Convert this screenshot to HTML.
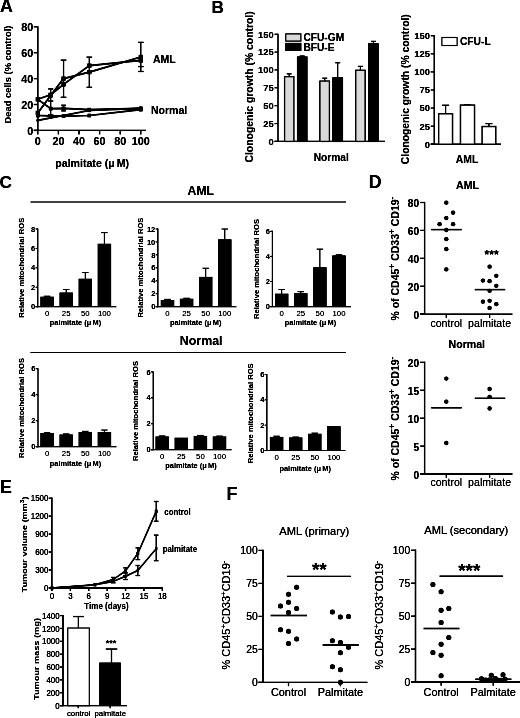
<!DOCTYPE html>
<html><head><meta charset="utf-8"><title>Figure</title>
<style>
html,body{margin:0;padding:0;background:#fff;}
body{width:520px;height:718px;overflow:hidden;font-family:"Liberation Sans", sans-serif;}
svg{display:block;font-family:"Liberation Sans",sans-serif;}
</style></head>
<body>
<svg width="520" height="718" viewBox="0 0 520 718">
<defs><filter id="soft" x="0" y="0" width="520" height="718" filterUnits="userSpaceOnUse"><feGaussianBlur stdDeviation="0.5"/><feComponentTransfer><feFuncA type="linear" slope="1.5" intercept="0"/></feComponentTransfer></filter></defs>
<rect x="0" y="0" width="520" height="718" fill="#fff"/>
<g filter="url(#soft)">
<text x="0.10" y="12.10" font-size="17.8" font-weight="bold" text-anchor="start" fill="#000">A</text>
<line x1="37.80" y1="26.20" x2="37.80" y2="131.00" stroke="#000" stroke-width="1.4" stroke-linecap="butt"/>
<line x1="33.80" y1="130.40" x2="146.00" y2="130.40" stroke="#000" stroke-width="1.4" stroke-linecap="butt"/>
<line x1="33.80" y1="130.40" x2="37.80" y2="130.40" stroke="#000" stroke-width="1.3" stroke-linecap="butt"/>
<text x="33.20" y="134.70" font-size="10.8" font-weight="bold" text-anchor="end" fill="#000">0</text>
<line x1="33.80" y1="104.50" x2="37.80" y2="104.50" stroke="#000" stroke-width="1.3" stroke-linecap="butt"/>
<text x="33.20" y="108.80" font-size="10.8" font-weight="bold" text-anchor="end" fill="#000">20</text>
<line x1="33.80" y1="78.60" x2="37.80" y2="78.60" stroke="#000" stroke-width="1.3" stroke-linecap="butt"/>
<text x="33.20" y="82.90" font-size="10.8" font-weight="bold" text-anchor="end" fill="#000">40</text>
<line x1="33.80" y1="52.70" x2="37.80" y2="52.70" stroke="#000" stroke-width="1.3" stroke-linecap="butt"/>
<text x="33.20" y="57.00" font-size="10.8" font-weight="bold" text-anchor="end" fill="#000">60</text>
<line x1="33.80" y1="26.80" x2="37.80" y2="26.80" stroke="#000" stroke-width="1.3" stroke-linecap="butt"/>
<text x="33.20" y="31.10" font-size="10.8" font-weight="bold" text-anchor="end" fill="#000">80</text>
<line x1="37.80" y1="130.40" x2="37.80" y2="134.40" stroke="#000" stroke-width="1.3" stroke-linecap="butt"/>
<text x="37.80" y="144.60" font-size="10.8" font-weight="bold" text-anchor="middle" fill="#000">0</text>
<line x1="58.40" y1="130.40" x2="58.40" y2="134.40" stroke="#000" stroke-width="1.3" stroke-linecap="butt"/>
<text x="58.40" y="144.60" font-size="10.8" font-weight="bold" text-anchor="middle" fill="#000">20</text>
<line x1="79.00" y1="130.40" x2="79.00" y2="134.40" stroke="#000" stroke-width="1.3" stroke-linecap="butt"/>
<text x="79.00" y="144.60" font-size="10.8" font-weight="bold" text-anchor="middle" fill="#000">40</text>
<line x1="99.60" y1="130.40" x2="99.60" y2="134.40" stroke="#000" stroke-width="1.3" stroke-linecap="butt"/>
<text x="99.60" y="144.60" font-size="10.8" font-weight="bold" text-anchor="middle" fill="#000">60</text>
<line x1="120.20" y1="130.40" x2="120.20" y2="134.40" stroke="#000" stroke-width="1.3" stroke-linecap="butt"/>
<text x="120.20" y="144.60" font-size="10.8" font-weight="bold" text-anchor="middle" fill="#000">80</text>
<line x1="140.80" y1="130.40" x2="140.80" y2="134.40" stroke="#000" stroke-width="1.3" stroke-linecap="butt"/>
<text x="140.80" y="144.60" font-size="10.8" font-weight="bold" text-anchor="middle" fill="#000">100</text>
<text x="10.50" y="74.50" font-size="9.4" font-weight="bold" text-anchor="middle" fill="#000" transform="rotate(-90 10.50 74.50)">Dead cells (% control)</text>
<text x="92.20" y="167.00" font-size="10.6" font-weight="bold" text-anchor="middle" fill="#000">palmitate (&#956;<tspan dx="2">M)</tspan></text>
<text x="153.00" y="63.20" font-size="10.5" font-weight="bold" text-anchor="start" fill="#000">AML</text>
<text x="151.00" y="113.60" font-size="10.5" font-weight="bold" text-anchor="start" fill="#000">Normal</text>
<polyline points="37.80,99.32 50.67,94.79 63.55,84.43 89.30,65.65 140.80,60.47" fill="none" stroke="#000" stroke-width="1.7" stroke-linejoin="round"/>
<polyline points="37.80,112.92 50.67,95.44 63.55,78.60 89.30,72.12 140.80,56.97" fill="none" stroke="#000" stroke-width="1.7" stroke-linejoin="round"/>
<polyline points="37.80,99.32 50.67,108.64 63.55,108.39 89.30,109.68 140.80,108.39" fill="none" stroke="#000" stroke-width="1.7" stroke-linejoin="round"/>
<polyline points="37.80,115.51 50.67,115.90 63.55,116.16 89.30,115.51 140.80,109.68" fill="none" stroke="#000" stroke-width="1.7" stroke-linejoin="round"/>
<polyline points="37.80,120.30 89.30,110.46 140.80,108.39" fill="none" stroke="#000" stroke-width="1.7" stroke-linejoin="round"/>
<rect x="35.70" y="97.22" width="4.20" height="4.20" fill="#000" stroke="#000" stroke-width="0"/>
<rect x="48.57" y="92.69" width="4.20" height="4.20" fill="#000" stroke="#000" stroke-width="0"/>
<rect x="61.45" y="82.33" width="4.20" height="4.20" fill="#000" stroke="#000" stroke-width="0"/>
<rect x="87.20" y="63.55" width="4.20" height="4.20" fill="#000" stroke="#000" stroke-width="0"/>
<rect x="138.70" y="58.37" width="4.20" height="4.20" fill="#000" stroke="#000" stroke-width="0"/>
<rect x="35.70" y="110.82" width="4.20" height="4.20" fill="#000" stroke="#000" stroke-width="0"/>
<rect x="48.57" y="93.34" width="4.20" height="4.20" fill="#000" stroke="#000" stroke-width="0"/>
<rect x="61.45" y="76.50" width="4.20" height="4.20" fill="#000" stroke="#000" stroke-width="0"/>
<rect x="87.20" y="70.03" width="4.20" height="4.20" fill="#000" stroke="#000" stroke-width="0"/>
<rect x="138.70" y="54.87" width="4.20" height="4.20" fill="#000" stroke="#000" stroke-width="0"/>
<rect x="36.00" y="97.52" width="3.60" height="3.60" fill="#000" stroke="#000" stroke-width="0"/>
<rect x="48.88" y="106.84" width="3.60" height="3.60" fill="#000" stroke="#000" stroke-width="0"/>
<rect x="61.75" y="106.59" width="3.60" height="3.60" fill="#000" stroke="#000" stroke-width="0"/>
<rect x="87.50" y="107.88" width="3.60" height="3.60" fill="#000" stroke="#000" stroke-width="0"/>
<rect x="139.00" y="106.59" width="3.60" height="3.60" fill="#000" stroke="#000" stroke-width="0"/>
<rect x="36.00" y="113.71" width="3.60" height="3.60" fill="#000" stroke="#000" stroke-width="0"/>
<rect x="48.88" y="114.10" width="3.60" height="3.60" fill="#000" stroke="#000" stroke-width="0"/>
<rect x="61.75" y="114.36" width="3.60" height="3.60" fill="#000" stroke="#000" stroke-width="0"/>
<rect x="87.50" y="113.71" width="3.60" height="3.60" fill="#000" stroke="#000" stroke-width="0"/>
<rect x="139.00" y="107.88" width="3.60" height="3.60" fill="#000" stroke="#000" stroke-width="0"/>
<circle cx="37.80" cy="120.30" r="1.6" fill="#000"/>
<circle cx="89.30" cy="110.46" r="1.8" fill="#000"/>
<circle cx="140.80" cy="108.39" r="2" fill="#000"/>
<line x1="50.67" y1="88.96" x2="50.67" y2="114.86" stroke="#000" stroke-width="1.2" stroke-linecap="butt"/>
<line x1="48.07" y1="88.96" x2="53.27" y2="88.96" stroke="#000" stroke-width="1.2" stroke-linecap="butt"/>
<line x1="48.07" y1="114.86" x2="53.27" y2="114.86" stroke="#000" stroke-width="1.2" stroke-linecap="butt"/>
<line x1="48.07" y1="101.00" x2="53.27" y2="101.00" stroke="#000" stroke-width="1.2" stroke-linecap="butt"/>
<line x1="63.55" y1="60.08" x2="63.55" y2="97.25" stroke="#000" stroke-width="1.2" stroke-linecap="butt"/>
<line x1="60.75" y1="60.08" x2="66.35" y2="60.08" stroke="#000" stroke-width="1.2" stroke-linecap="butt"/>
<line x1="60.75" y1="97.25" x2="66.35" y2="97.25" stroke="#000" stroke-width="1.2" stroke-linecap="butt"/>
<line x1="89.30" y1="57.10" x2="89.30" y2="87.28" stroke="#000" stroke-width="1.2" stroke-linecap="butt"/>
<line x1="86.50" y1="57.10" x2="92.10" y2="57.10" stroke="#000" stroke-width="1.2" stroke-linecap="butt"/>
<line x1="86.50" y1="87.28" x2="92.10" y2="87.28" stroke="#000" stroke-width="1.2" stroke-linecap="butt"/>
<line x1="140.80" y1="42.34" x2="140.80" y2="71.48" stroke="#000" stroke-width="1.2" stroke-linecap="butt"/>
<line x1="138.00" y1="42.34" x2="143.60" y2="42.34" stroke="#000" stroke-width="1.2" stroke-linecap="butt"/>
<line x1="138.00" y1="71.48" x2="143.60" y2="71.48" stroke="#000" stroke-width="1.2" stroke-linecap="butt"/>
<line x1="138.00" y1="66.56" x2="143.60" y2="66.56" stroke="#000" stroke-width="1.2" stroke-linecap="butt"/>
<line x1="63.55" y1="105.15" x2="63.55" y2="110.98" stroke="#000" stroke-width="1.1" stroke-linecap="butt"/>
<line x1="61.15" y1="105.15" x2="65.95" y2="105.15" stroke="#000" stroke-width="1.1" stroke-linecap="butt"/>
<line x1="61.15" y1="110.98" x2="65.95" y2="110.98" stroke="#000" stroke-width="1.1" stroke-linecap="butt"/>
<text x="211.60" y="12.70" font-size="17.2" font-weight="bold" text-anchor="start" fill="#000">B</text>
<line x1="278.00" y1="33.70" x2="278.00" y2="141.90" stroke="#000" stroke-width="1.2" stroke-linecap="butt"/>
<line x1="274.50" y1="141.40" x2="385.00" y2="141.40" stroke="#000" stroke-width="1.3" stroke-linecap="butt"/>
<line x1="274.50" y1="141.40" x2="278.00" y2="141.40" stroke="#000" stroke-width="1.1" stroke-linecap="butt"/>
<text x="273.70" y="144.80" font-size="9.4" font-weight="bold" text-anchor="end" fill="#000">0</text>
<line x1="274.50" y1="123.53" x2="278.00" y2="123.53" stroke="#000" stroke-width="1.1" stroke-linecap="butt"/>
<text x="273.70" y="126.93" font-size="9.4" font-weight="bold" text-anchor="end" fill="#000">25</text>
<line x1="274.50" y1="105.67" x2="278.00" y2="105.67" stroke="#000" stroke-width="1.1" stroke-linecap="butt"/>
<text x="273.70" y="109.07" font-size="9.4" font-weight="bold" text-anchor="end" fill="#000">50</text>
<line x1="274.50" y1="87.80" x2="278.00" y2="87.80" stroke="#000" stroke-width="1.1" stroke-linecap="butt"/>
<text x="273.70" y="91.20" font-size="9.4" font-weight="bold" text-anchor="end" fill="#000">75</text>
<line x1="274.50" y1="69.93" x2="278.00" y2="69.93" stroke="#000" stroke-width="1.1" stroke-linecap="butt"/>
<text x="273.70" y="73.33" font-size="9.4" font-weight="bold" text-anchor="end" fill="#000">100</text>
<line x1="274.50" y1="52.06" x2="278.00" y2="52.06" stroke="#000" stroke-width="1.1" stroke-linecap="butt"/>
<text x="273.70" y="55.46" font-size="9.4" font-weight="bold" text-anchor="end" fill="#000">125</text>
<line x1="274.50" y1="34.20" x2="278.00" y2="34.20" stroke="#000" stroke-width="1.1" stroke-linecap="butt"/>
<text x="273.70" y="37.60" font-size="9.4" font-weight="bold" text-anchor="end" fill="#000">150</text>
<text x="252.90" y="86.90" font-size="10.4" font-weight="bold" text-anchor="middle" fill="#000" transform="rotate(-90 252.90 86.90)">Clonogenic growth (% control)</text>
<text x="331.20" y="160.70" font-size="10.2" font-weight="bold" text-anchor="middle" fill="#000">Normal</text>
<line x1="289.20" y1="73.86" x2="289.20" y2="76.72" stroke="#000" stroke-width="1.1" stroke-linecap="butt"/>
<line x1="286.70" y1="73.86" x2="291.70" y2="73.86" stroke="#000" stroke-width="1.1" stroke-linecap="butt"/>
<rect x="284.60" y="76.72" width="9.20" height="64.68" fill="#d9d9d9" stroke="#000" stroke-width="1.3"/>
<line x1="302.25" y1="55.99" x2="302.25" y2="57.07" stroke="#000" stroke-width="1.1" stroke-linecap="butt"/>
<line x1="299.75" y1="55.99" x2="304.75" y2="55.99" stroke="#000" stroke-width="1.1" stroke-linecap="butt"/>
<rect x="297.60" y="57.07" width="9.30" height="84.33" fill="#000" stroke="#000" stroke-width="1.3"/>
<line x1="324.70" y1="78.15" x2="324.70" y2="81.15" stroke="#000" stroke-width="1.1" stroke-linecap="butt"/>
<line x1="322.20" y1="78.15" x2="327.20" y2="78.15" stroke="#000" stroke-width="1.1" stroke-linecap="butt"/>
<rect x="320.00" y="81.15" width="9.40" height="60.25" fill="#d9d9d9" stroke="#000" stroke-width="1.3"/>
<line x1="337.70" y1="62.78" x2="337.70" y2="77.93" stroke="#000" stroke-width="1.1" stroke-linecap="butt"/>
<line x1="335.20" y1="62.78" x2="340.20" y2="62.78" stroke="#000" stroke-width="1.1" stroke-linecap="butt"/>
<rect x="333.00" y="77.93" width="9.40" height="63.47" fill="#000" stroke="#000" stroke-width="1.3"/>
<line x1="360.40" y1="66.36" x2="360.40" y2="70.29" stroke="#000" stroke-width="1.1" stroke-linecap="butt"/>
<line x1="357.90" y1="66.36" x2="362.90" y2="66.36" stroke="#000" stroke-width="1.1" stroke-linecap="butt"/>
<rect x="355.80" y="70.29" width="9.20" height="71.11" fill="#d9d9d9" stroke="#000" stroke-width="1.3"/>
<line x1="373.40" y1="41.34" x2="373.40" y2="43.84" stroke="#000" stroke-width="1.1" stroke-linecap="butt"/>
<line x1="370.90" y1="41.34" x2="375.90" y2="41.34" stroke="#000" stroke-width="1.1" stroke-linecap="butt"/>
<rect x="368.80" y="43.84" width="9.20" height="97.56" fill="#000" stroke="#000" stroke-width="1.3"/>
<rect x="285.80" y="34.00" width="15.00" height="7.00" fill="#d9d9d9" stroke="#000" stroke-width="1.2"/>
<text x="303.40" y="41.20" font-size="10.2" font-weight="bold" text-anchor="start" fill="#000">CFU-GM</text>
<rect x="285.80" y="43.50" width="15.00" height="6.90" fill="#000" stroke="#000" stroke-width="1.2"/>
<text x="303.40" y="50.80" font-size="10.2" font-weight="bold" text-anchor="start" fill="#000">BFU-E</text>
<line x1="434.20" y1="35.29" x2="434.20" y2="144.70" stroke="#000" stroke-width="1.2" stroke-linecap="butt"/>
<line x1="430.70" y1="144.20" x2="501.00" y2="144.20" stroke="#000" stroke-width="1.2" stroke-linecap="butt"/>
<line x1="430.70" y1="144.20" x2="434.20" y2="144.20" stroke="#000" stroke-width="1.1" stroke-linecap="butt"/>
<text x="429.90" y="147.60" font-size="9.4" font-weight="bold" text-anchor="end" fill="#000">0</text>
<line x1="430.70" y1="126.13" x2="434.20" y2="126.13" stroke="#000" stroke-width="1.1" stroke-linecap="butt"/>
<text x="429.90" y="129.53" font-size="9.4" font-weight="bold" text-anchor="end" fill="#000">25</text>
<line x1="430.70" y1="108.06" x2="434.20" y2="108.06" stroke="#000" stroke-width="1.1" stroke-linecap="butt"/>
<text x="429.90" y="111.47" font-size="9.4" font-weight="bold" text-anchor="end" fill="#000">50</text>
<line x1="430.70" y1="90.00" x2="434.20" y2="90.00" stroke="#000" stroke-width="1.1" stroke-linecap="butt"/>
<text x="429.90" y="93.40" font-size="9.4" font-weight="bold" text-anchor="end" fill="#000">75</text>
<line x1="430.70" y1="71.93" x2="434.20" y2="71.93" stroke="#000" stroke-width="1.1" stroke-linecap="butt"/>
<text x="429.90" y="75.33" font-size="9.4" font-weight="bold" text-anchor="end" fill="#000">100</text>
<line x1="430.70" y1="53.86" x2="434.20" y2="53.86" stroke="#000" stroke-width="1.1" stroke-linecap="butt"/>
<text x="429.90" y="57.26" font-size="9.4" font-weight="bold" text-anchor="end" fill="#000">125</text>
<line x1="430.70" y1="35.79" x2="434.20" y2="35.79" stroke="#000" stroke-width="1.1" stroke-linecap="butt"/>
<text x="429.90" y="39.19" font-size="9.4" font-weight="bold" text-anchor="end" fill="#000">150</text>
<text x="409.30" y="89.20" font-size="10.3" font-weight="bold" text-anchor="middle" fill="#000" transform="rotate(-90 409.30 89.20)">Clonogenic growth (% control)</text>
<text x="467.00" y="163.40" font-size="10.4" font-weight="bold" text-anchor="middle" fill="#000">AML</text>
<line x1="445.60" y1="105.17" x2="445.60" y2="113.85" stroke="#000" stroke-width="1.1" stroke-linecap="butt"/>
<line x1="442.10" y1="105.17" x2="449.10" y2="105.17" stroke="#000" stroke-width="1.1" stroke-linecap="butt"/>
<rect x="438.70" y="113.85" width="13.80" height="30.35" fill="#fff" stroke="#000" stroke-width="1.4"/>
<line x1="467.50" y1="104.81" x2="467.50" y2="105.17" stroke="#000" stroke-width="1.1" stroke-linecap="butt"/>
<line x1="464.00" y1="104.81" x2="471.00" y2="104.81" stroke="#000" stroke-width="1.1" stroke-linecap="butt"/>
<rect x="460.50" y="105.17" width="14.00" height="39.03" fill="#fff" stroke="#000" stroke-width="1.4"/>
<line x1="488.95" y1="123.60" x2="488.95" y2="126.57" stroke="#000" stroke-width="1.1" stroke-linecap="butt"/>
<line x1="485.45" y1="123.60" x2="492.45" y2="123.60" stroke="#000" stroke-width="1.1" stroke-linecap="butt"/>
<rect x="482.20" y="126.57" width="13.50" height="17.63" fill="#fff" stroke="#000" stroke-width="1.4"/>
<rect x="442.00" y="37.50" width="15.00" height="8.00" fill="#fff" stroke="#000" stroke-width="1.1"/>
<text x="459.90" y="44.90" font-size="10.3" font-weight="bold" text-anchor="start" fill="#000">CFU-L</text>
<text x="-0.50" y="188.30" font-size="17.2" font-weight="bold" text-anchor="start" fill="#000">C</text>
<text x="200.80" y="194.80" font-size="12.2" font-weight="bold" text-anchor="middle" fill="#000">AML</text>
<line x1="30.50" y1="202.00" x2="346.00" y2="202.00" stroke="#000" stroke-width="1.0" stroke-linecap="butt"/>
<line x1="37.80" y1="228.50" x2="37.80" y2="307.20" stroke="#000" stroke-width="1.1" stroke-linecap="butt"/>
<line x1="35.60" y1="306.70" x2="116.30" y2="306.70" stroke="#000" stroke-width="1.1" stroke-linecap="butt"/>
<line x1="35.60" y1="306.70" x2="37.80" y2="306.70" stroke="#000" stroke-width="1.0" stroke-linecap="butt"/>
<text x="35.20" y="309.30" font-size="7.5" font-weight="bold" text-anchor="end" fill="#000">0</text>
<line x1="35.60" y1="287.27" x2="37.80" y2="287.27" stroke="#000" stroke-width="1.0" stroke-linecap="butt"/>
<text x="35.20" y="289.88" font-size="7.5" font-weight="bold" text-anchor="end" fill="#000">2</text>
<line x1="35.60" y1="267.85" x2="37.80" y2="267.85" stroke="#000" stroke-width="1.0" stroke-linecap="butt"/>
<text x="35.20" y="270.45" font-size="7.5" font-weight="bold" text-anchor="end" fill="#000">4</text>
<line x1="35.60" y1="248.43" x2="37.80" y2="248.43" stroke="#000" stroke-width="1.0" stroke-linecap="butt"/>
<text x="35.20" y="251.03" font-size="7.5" font-weight="bold" text-anchor="end" fill="#000">6</text>
<line x1="35.60" y1="229.00" x2="37.80" y2="229.00" stroke="#000" stroke-width="1.0" stroke-linecap="butt"/>
<text x="35.20" y="231.60" font-size="7.5" font-weight="bold" text-anchor="end" fill="#000">8</text>
<line x1="47.10" y1="296.21" x2="47.10" y2="296.70" stroke="#000" stroke-width="1.0" stroke-linecap="butt"/>
<line x1="43.90" y1="296.21" x2="50.30" y2="296.21" stroke="#000" stroke-width="1.0" stroke-linecap="butt"/>
<rect x="40.40" y="296.70" width="13.40" height="10.00" fill="#000" stroke="#000" stroke-width="0"/>
<text x="47.10" y="315.50" font-size="7.8" font-weight="normal" text-anchor="middle" fill="#000">0</text>
<line x1="66.20" y1="289.51" x2="66.20" y2="292.52" stroke="#000" stroke-width="1.0" stroke-linecap="butt"/>
<line x1="63.00" y1="289.51" x2="69.40" y2="289.51" stroke="#000" stroke-width="1.0" stroke-linecap="butt"/>
<rect x="59.50" y="292.52" width="13.40" height="14.18" fill="#000" stroke="#000" stroke-width="0"/>
<text x="66.20" y="315.50" font-size="7.8" font-weight="normal" text-anchor="middle" fill="#000">25</text>
<line x1="85.30" y1="272.51" x2="85.30" y2="278.73" stroke="#000" stroke-width="1.0" stroke-linecap="butt"/>
<line x1="82.10" y1="272.51" x2="88.50" y2="272.51" stroke="#000" stroke-width="1.0" stroke-linecap="butt"/>
<rect x="78.60" y="278.73" width="13.40" height="27.97" fill="#000" stroke="#000" stroke-width="0"/>
<text x="85.30" y="315.50" font-size="7.8" font-weight="normal" text-anchor="middle" fill="#000">50</text>
<line x1="104.40" y1="232.59" x2="104.40" y2="243.76" stroke="#000" stroke-width="1.0" stroke-linecap="butt"/>
<line x1="101.20" y1="232.59" x2="107.60" y2="232.59" stroke="#000" stroke-width="1.0" stroke-linecap="butt"/>
<rect x="97.70" y="243.76" width="13.40" height="62.94" fill="#000" stroke="#000" stroke-width="0"/>
<text x="104.40" y="315.50" font-size="7.8" font-weight="normal" text-anchor="middle" fill="#000">100</text>
<text x="24.40" y="267.80" font-size="7.6" font-weight="bold" text-anchor="middle" fill="#000" transform="rotate(-90 24.40 267.80)">Relative mitochondrial ROS</text>
<text x="75.50" y="325.00" font-size="7.4" font-weight="bold" text-anchor="middle" fill="#000">palmitate (&#956;<tspan dx="1.3">M)</tspan></text>
<line x1="157.90" y1="228.50" x2="157.90" y2="307.20" stroke="#000" stroke-width="1.1" stroke-linecap="butt"/>
<line x1="155.70" y1="306.70" x2="236.40" y2="306.70" stroke="#000" stroke-width="1.1" stroke-linecap="butt"/>
<line x1="155.70" y1="306.70" x2="157.90" y2="306.70" stroke="#000" stroke-width="1.0" stroke-linecap="butt"/>
<text x="155.30" y="309.30" font-size="7.5" font-weight="bold" text-anchor="end" fill="#000">0</text>
<line x1="155.70" y1="293.75" x2="157.90" y2="293.75" stroke="#000" stroke-width="1.0" stroke-linecap="butt"/>
<text x="155.30" y="296.35" font-size="7.5" font-weight="bold" text-anchor="end" fill="#000">2</text>
<line x1="155.70" y1="280.80" x2="157.90" y2="280.80" stroke="#000" stroke-width="1.0" stroke-linecap="butt"/>
<text x="155.30" y="283.40" font-size="7.5" font-weight="bold" text-anchor="end" fill="#000">4</text>
<line x1="155.70" y1="267.85" x2="157.90" y2="267.85" stroke="#000" stroke-width="1.0" stroke-linecap="butt"/>
<text x="155.30" y="270.45" font-size="7.5" font-weight="bold" text-anchor="end" fill="#000">6</text>
<line x1="155.70" y1="254.90" x2="157.90" y2="254.90" stroke="#000" stroke-width="1.0" stroke-linecap="butt"/>
<text x="155.30" y="257.50" font-size="7.5" font-weight="bold" text-anchor="end" fill="#000">8</text>
<line x1="155.70" y1="241.95" x2="157.90" y2="241.95" stroke="#000" stroke-width="1.0" stroke-linecap="butt"/>
<text x="155.30" y="244.55" font-size="7.5" font-weight="bold" text-anchor="end" fill="#000">10</text>
<line x1="155.70" y1="229.00" x2="157.90" y2="229.00" stroke="#000" stroke-width="1.0" stroke-linecap="butt"/>
<text x="155.30" y="231.60" font-size="7.5" font-weight="bold" text-anchor="end" fill="#000">12</text>
<line x1="167.50" y1="299.38" x2="167.50" y2="300.03" stroke="#000" stroke-width="1.0" stroke-linecap="butt"/>
<line x1="164.30" y1="299.38" x2="170.70" y2="299.38" stroke="#000" stroke-width="1.0" stroke-linecap="butt"/>
<rect x="160.80" y="300.03" width="13.40" height="6.67" fill="#000" stroke="#000" stroke-width="0"/>
<text x="167.50" y="315.50" font-size="7.8" font-weight="normal" text-anchor="middle" fill="#000">0</text>
<line x1="186.60" y1="298.28" x2="186.60" y2="298.74" stroke="#000" stroke-width="1.0" stroke-linecap="butt"/>
<line x1="183.40" y1="298.28" x2="189.80" y2="298.28" stroke="#000" stroke-width="1.0" stroke-linecap="butt"/>
<rect x="179.90" y="298.74" width="13.40" height="7.96" fill="#000" stroke="#000" stroke-width="0"/>
<text x="186.60" y="315.50" font-size="7.8" font-weight="normal" text-anchor="middle" fill="#000">25</text>
<line x1="205.70" y1="268.24" x2="205.70" y2="276.92" stroke="#000" stroke-width="1.0" stroke-linecap="butt"/>
<line x1="202.50" y1="268.24" x2="208.90" y2="268.24" stroke="#000" stroke-width="1.0" stroke-linecap="butt"/>
<rect x="199.00" y="276.92" width="13.40" height="29.78" fill="#000" stroke="#000" stroke-width="0"/>
<text x="205.70" y="315.50" font-size="7.8" font-weight="normal" text-anchor="middle" fill="#000">50</text>
<line x1="224.80" y1="229.00" x2="224.80" y2="239.36" stroke="#000" stroke-width="1.0" stroke-linecap="butt"/>
<line x1="221.60" y1="229.00" x2="228.00" y2="229.00" stroke="#000" stroke-width="1.0" stroke-linecap="butt"/>
<rect x="218.10" y="239.36" width="13.40" height="67.34" fill="#000" stroke="#000" stroke-width="0"/>
<text x="224.80" y="315.50" font-size="7.8" font-weight="normal" text-anchor="middle" fill="#000">100</text>
<text x="143.50" y="267.60" font-size="7.6" font-weight="bold" text-anchor="middle" fill="#000" transform="rotate(-90 143.50 267.60)">Relative mitochondrial ROS</text>
<text x="195.70" y="325.00" font-size="7.4" font-weight="bold" text-anchor="middle" fill="#000">palmitate (&#956;<tspan dx="1.3">M)</tspan></text>
<line x1="272.40" y1="230.80" x2="272.40" y2="307.10" stroke="#000" stroke-width="1.1" stroke-linecap="butt"/>
<line x1="270.20" y1="306.60" x2="350.90" y2="306.60" stroke="#000" stroke-width="1.1" stroke-linecap="butt"/>
<line x1="270.20" y1="306.60" x2="272.40" y2="306.60" stroke="#000" stroke-width="1.0" stroke-linecap="butt"/>
<text x="269.80" y="309.20" font-size="7.5" font-weight="bold" text-anchor="end" fill="#000">0</text>
<line x1="270.20" y1="281.50" x2="272.40" y2="281.50" stroke="#000" stroke-width="1.0" stroke-linecap="butt"/>
<text x="269.80" y="284.10" font-size="7.5" font-weight="bold" text-anchor="end" fill="#000">2</text>
<line x1="270.20" y1="256.40" x2="272.40" y2="256.40" stroke="#000" stroke-width="1.0" stroke-linecap="butt"/>
<text x="269.80" y="259.00" font-size="7.5" font-weight="bold" text-anchor="end" fill="#000">4</text>
<line x1="270.20" y1="231.30" x2="272.40" y2="231.30" stroke="#000" stroke-width="1.0" stroke-linecap="butt"/>
<text x="269.80" y="233.90" font-size="7.5" font-weight="bold" text-anchor="end" fill="#000">6</text>
<line x1="281.70" y1="289.53" x2="281.70" y2="293.67" stroke="#000" stroke-width="1.0" stroke-linecap="butt"/>
<line x1="278.50" y1="289.53" x2="284.90" y2="289.53" stroke="#000" stroke-width="1.0" stroke-linecap="butt"/>
<rect x="275.00" y="293.67" width="13.40" height="12.93" fill="#000" stroke="#000" stroke-width="0"/>
<text x="281.70" y="315.80" font-size="7.8" font-weight="normal" text-anchor="middle" fill="#000">0</text>
<line x1="300.80" y1="291.67" x2="300.80" y2="293.17" stroke="#000" stroke-width="1.0" stroke-linecap="butt"/>
<line x1="297.60" y1="291.67" x2="304.00" y2="291.67" stroke="#000" stroke-width="1.0" stroke-linecap="butt"/>
<rect x="294.10" y="293.17" width="13.40" height="13.43" fill="#000" stroke="#000" stroke-width="0"/>
<text x="300.80" y="315.80" font-size="7.8" font-weight="normal" text-anchor="middle" fill="#000">25</text>
<line x1="319.90" y1="249.12" x2="319.90" y2="267.32" stroke="#000" stroke-width="1.0" stroke-linecap="butt"/>
<line x1="316.70" y1="249.12" x2="323.10" y2="249.12" stroke="#000" stroke-width="1.0" stroke-linecap="butt"/>
<rect x="313.20" y="267.32" width="13.40" height="39.28" fill="#000" stroke="#000" stroke-width="0"/>
<text x="319.90" y="315.80" font-size="7.8" font-weight="normal" text-anchor="middle" fill="#000">50</text>
<line x1="339.00" y1="254.89" x2="339.00" y2="255.40" stroke="#000" stroke-width="1.0" stroke-linecap="butt"/>
<line x1="335.80" y1="254.89" x2="342.20" y2="254.89" stroke="#000" stroke-width="1.0" stroke-linecap="butt"/>
<rect x="332.30" y="255.40" width="13.40" height="51.20" fill="#000" stroke="#000" stroke-width="0"/>
<text x="339.00" y="315.80" font-size="7.8" font-weight="normal" text-anchor="middle" fill="#000">100</text>
<text x="258.80" y="269.00" font-size="7.6" font-weight="bold" text-anchor="middle" fill="#000" transform="rotate(-90 258.80 269.00)">Relative mitochondrial ROS</text>
<text x="310.50" y="325.00" font-size="7.4" font-weight="bold" text-anchor="middle" fill="#000">palmitate (&#956;<tspan dx="1.3">M)</tspan></text>
<text x="201.20" y="345.20" font-size="12.4" font-weight="bold" text-anchor="middle" fill="#000">Normal</text>
<line x1="30.50" y1="352.50" x2="346.00" y2="352.50" stroke="#000" stroke-width="1.0" stroke-linecap="butt"/>
<line x1="38.00" y1="368.20" x2="38.00" y2="447.20" stroke="#000" stroke-width="1.1" stroke-linecap="butt"/>
<line x1="35.80" y1="446.70" x2="116.50" y2="446.70" stroke="#000" stroke-width="1.1" stroke-linecap="butt"/>
<line x1="35.80" y1="446.70" x2="38.00" y2="446.70" stroke="#000" stroke-width="1.0" stroke-linecap="butt"/>
<text x="35.40" y="449.30" font-size="7.5" font-weight="bold" text-anchor="end" fill="#000">0</text>
<line x1="35.80" y1="420.70" x2="38.00" y2="420.70" stroke="#000" stroke-width="1.0" stroke-linecap="butt"/>
<text x="35.40" y="423.30" font-size="7.5" font-weight="bold" text-anchor="end" fill="#000">2</text>
<line x1="35.80" y1="394.70" x2="38.00" y2="394.70" stroke="#000" stroke-width="1.0" stroke-linecap="butt"/>
<text x="35.40" y="397.30" font-size="7.5" font-weight="bold" text-anchor="end" fill="#000">4</text>
<line x1="35.80" y1="368.70" x2="38.00" y2="368.70" stroke="#000" stroke-width="1.0" stroke-linecap="butt"/>
<text x="35.40" y="371.30" font-size="7.5" font-weight="bold" text-anchor="end" fill="#000">6</text>
<line x1="47.10" y1="432.79" x2="47.10" y2="433.05" stroke="#000" stroke-width="1.0" stroke-linecap="butt"/>
<line x1="43.90" y1="432.79" x2="50.30" y2="432.79" stroke="#000" stroke-width="1.0" stroke-linecap="butt"/>
<rect x="40.40" y="433.05" width="13.40" height="13.65" fill="#000" stroke="#000" stroke-width="0"/>
<text x="47.10" y="455.90" font-size="7.8" font-weight="normal" text-anchor="middle" fill="#000">0</text>
<line x1="66.20" y1="433.96" x2="66.20" y2="434.48" stroke="#000" stroke-width="1.0" stroke-linecap="butt"/>
<line x1="63.00" y1="433.96" x2="69.40" y2="433.96" stroke="#000" stroke-width="1.0" stroke-linecap="butt"/>
<rect x="59.50" y="434.48" width="13.40" height="12.22" fill="#000" stroke="#000" stroke-width="0"/>
<text x="66.20" y="455.90" font-size="7.8" font-weight="normal" text-anchor="middle" fill="#000">25</text>
<line x1="85.30" y1="431.36" x2="85.30" y2="432.01" stroke="#000" stroke-width="1.0" stroke-linecap="butt"/>
<line x1="82.10" y1="431.36" x2="88.50" y2="431.36" stroke="#000" stroke-width="1.0" stroke-linecap="butt"/>
<rect x="78.60" y="432.01" width="13.40" height="14.69" fill="#000" stroke="#000" stroke-width="0"/>
<text x="85.30" y="455.90" font-size="7.8" font-weight="normal" text-anchor="middle" fill="#000">50</text>
<line x1="104.40" y1="430.06" x2="104.40" y2="432.01" stroke="#000" stroke-width="1.0" stroke-linecap="butt"/>
<line x1="101.20" y1="430.06" x2="107.60" y2="430.06" stroke="#000" stroke-width="1.0" stroke-linecap="butt"/>
<rect x="97.70" y="432.01" width="13.40" height="14.69" fill="#000" stroke="#000" stroke-width="0"/>
<text x="104.40" y="455.90" font-size="7.8" font-weight="normal" text-anchor="middle" fill="#000">100</text>
<text x="24.00" y="408.00" font-size="7.6" font-weight="bold" text-anchor="middle" fill="#000" transform="rotate(-90 24.00 408.00)">Relative mitochondrial ROS</text>
<text x="75.50" y="465.50" font-size="7.4" font-weight="bold" text-anchor="middle" fill="#000">palmitate (&#956;<tspan dx="1.3">M)</tspan></text>
<line x1="153.20" y1="371.40" x2="153.20" y2="450.20" stroke="#000" stroke-width="1.1" stroke-linecap="butt"/>
<line x1="151.00" y1="449.70" x2="231.70" y2="449.70" stroke="#000" stroke-width="1.1" stroke-linecap="butt"/>
<line x1="151.00" y1="449.70" x2="153.20" y2="449.70" stroke="#000" stroke-width="1.0" stroke-linecap="butt"/>
<text x="150.60" y="452.30" font-size="7.5" font-weight="bold" text-anchor="end" fill="#000">0</text>
<line x1="151.00" y1="423.77" x2="153.20" y2="423.77" stroke="#000" stroke-width="1.0" stroke-linecap="butt"/>
<text x="150.60" y="426.37" font-size="7.5" font-weight="bold" text-anchor="end" fill="#000">2</text>
<line x1="151.00" y1="397.83" x2="153.20" y2="397.83" stroke="#000" stroke-width="1.0" stroke-linecap="butt"/>
<text x="150.60" y="400.43" font-size="7.5" font-weight="bold" text-anchor="end" fill="#000">4</text>
<line x1="151.00" y1="371.90" x2="153.20" y2="371.90" stroke="#000" stroke-width="1.0" stroke-linecap="butt"/>
<text x="150.60" y="374.50" font-size="7.5" font-weight="bold" text-anchor="end" fill="#000">6</text>
<line x1="162.20" y1="435.96" x2="162.20" y2="436.47" stroke="#000" stroke-width="1.0" stroke-linecap="butt"/>
<line x1="159.00" y1="435.96" x2="165.40" y2="435.96" stroke="#000" stroke-width="1.0" stroke-linecap="butt"/>
<rect x="155.50" y="436.47" width="13.40" height="13.23" fill="#000" stroke="#000" stroke-width="0"/>
<text x="162.20" y="458.90" font-size="7.8" font-weight="normal" text-anchor="middle" fill="#000">0</text>
<rect x="174.60" y="437.71" width="13.40" height="11.99" fill="#000" stroke="#000" stroke-width="0"/>
<text x="181.30" y="458.90" font-size="7.8" font-weight="normal" text-anchor="middle" fill="#000">25</text>
<line x1="200.40" y1="435.44" x2="200.40" y2="435.96" stroke="#000" stroke-width="1.0" stroke-linecap="butt"/>
<line x1="197.20" y1="435.44" x2="203.60" y2="435.44" stroke="#000" stroke-width="1.0" stroke-linecap="butt"/>
<rect x="193.70" y="435.96" width="13.40" height="13.74" fill="#000" stroke="#000" stroke-width="0"/>
<text x="200.40" y="458.90" font-size="7.8" font-weight="normal" text-anchor="middle" fill="#000">50</text>
<line x1="219.50" y1="436.08" x2="219.50" y2="436.47" stroke="#000" stroke-width="1.0" stroke-linecap="butt"/>
<line x1="216.30" y1="436.08" x2="222.70" y2="436.08" stroke="#000" stroke-width="1.0" stroke-linecap="butt"/>
<rect x="212.80" y="436.47" width="13.40" height="13.23" fill="#000" stroke="#000" stroke-width="0"/>
<text x="219.50" y="458.90" font-size="7.8" font-weight="normal" text-anchor="middle" fill="#000">100</text>
<text x="138.40" y="411.00" font-size="7.6" font-weight="bold" text-anchor="middle" fill="#000" transform="rotate(-90 138.40 411.00)">Relative mitochondrial ROS</text>
<text x="191.00" y="468.40" font-size="7.4" font-weight="bold" text-anchor="middle" fill="#000">palmitate (&#956;<tspan dx="1.3">M)</tspan></text>
<line x1="266.90" y1="374.00" x2="266.90" y2="451.00" stroke="#000" stroke-width="1.1" stroke-linecap="butt"/>
<line x1="264.70" y1="450.50" x2="345.40" y2="450.50" stroke="#000" stroke-width="1.1" stroke-linecap="butt"/>
<line x1="264.70" y1="450.50" x2="266.90" y2="450.50" stroke="#000" stroke-width="1.0" stroke-linecap="butt"/>
<text x="264.30" y="453.10" font-size="7.5" font-weight="bold" text-anchor="end" fill="#000">0</text>
<line x1="264.70" y1="425.17" x2="266.90" y2="425.17" stroke="#000" stroke-width="1.0" stroke-linecap="butt"/>
<text x="264.30" y="427.77" font-size="7.5" font-weight="bold" text-anchor="end" fill="#000">2</text>
<line x1="264.70" y1="399.83" x2="266.90" y2="399.83" stroke="#000" stroke-width="1.0" stroke-linecap="butt"/>
<text x="264.30" y="402.43" font-size="7.5" font-weight="bold" text-anchor="end" fill="#000">4</text>
<line x1="264.70" y1="374.50" x2="266.90" y2="374.50" stroke="#000" stroke-width="1.0" stroke-linecap="butt"/>
<text x="264.30" y="377.10" font-size="7.5" font-weight="bold" text-anchor="end" fill="#000">6</text>
<line x1="276.60" y1="436.19" x2="276.60" y2="436.95" stroke="#000" stroke-width="1.0" stroke-linecap="butt"/>
<line x1="273.40" y1="436.19" x2="279.80" y2="436.19" stroke="#000" stroke-width="1.0" stroke-linecap="butt"/>
<rect x="269.90" y="436.95" width="13.40" height="13.55" fill="#000" stroke="#000" stroke-width="0"/>
<text x="276.60" y="459.70" font-size="7.8" font-weight="normal" text-anchor="middle" fill="#000">0</text>
<line x1="295.70" y1="437.07" x2="295.70" y2="437.45" stroke="#000" stroke-width="1.0" stroke-linecap="butt"/>
<line x1="292.50" y1="437.07" x2="298.90" y2="437.07" stroke="#000" stroke-width="1.0" stroke-linecap="butt"/>
<rect x="289.00" y="437.45" width="13.40" height="13.05" fill="#000" stroke="#000" stroke-width="0"/>
<text x="295.70" y="459.70" font-size="7.8" font-weight="normal" text-anchor="middle" fill="#000">25</text>
<line x1="314.80" y1="433.15" x2="314.80" y2="433.78" stroke="#000" stroke-width="1.0" stroke-linecap="butt"/>
<line x1="311.60" y1="433.15" x2="318.00" y2="433.15" stroke="#000" stroke-width="1.0" stroke-linecap="butt"/>
<rect x="308.10" y="433.78" width="13.40" height="16.72" fill="#000" stroke="#000" stroke-width="0"/>
<text x="314.80" y="459.70" font-size="7.8" font-weight="normal" text-anchor="middle" fill="#000">50</text>
<rect x="327.20" y="426.18" width="13.40" height="24.32" fill="#000" stroke="#000" stroke-width="0"/>
<text x="333.90" y="459.70" font-size="7.8" font-weight="normal" text-anchor="middle" fill="#000">100</text>
<text x="253.00" y="413.30" font-size="7.6" font-weight="bold" text-anchor="middle" fill="#000" transform="rotate(-90 253.00 413.30)">Relative mitochondrial ROS</text>
<text x="305.20" y="470.50" font-size="7.4" font-weight="bold" text-anchor="middle" fill="#000">palmitate (&#956;<tspan dx="1.3">M)</tspan></text>
<text x="368.80" y="188.10" font-size="17.8" font-weight="bold" text-anchor="start" fill="#000">D</text>
<line x1="424.60" y1="201.90" x2="424.60" y2="314.70" stroke="#000" stroke-width="1.3" stroke-linecap="butt"/>
<line x1="420.10" y1="314.10" x2="512.50" y2="314.10" stroke="#000" stroke-width="1.3" stroke-linecap="butt"/>
<line x1="420.10" y1="314.10" x2="424.60" y2="314.10" stroke="#000" stroke-width="1.2" stroke-linecap="butt"/>
<text x="419.10" y="318.70" font-size="10.2" font-weight="bold" text-anchor="end" fill="#000">0</text>
<line x1="420.10" y1="286.20" x2="424.60" y2="286.20" stroke="#000" stroke-width="1.2" stroke-linecap="butt"/>
<text x="419.10" y="290.80" font-size="10.2" font-weight="bold" text-anchor="end" fill="#000">20</text>
<line x1="420.10" y1="258.30" x2="424.60" y2="258.30" stroke="#000" stroke-width="1.2" stroke-linecap="butt"/>
<text x="419.10" y="262.90" font-size="10.2" font-weight="bold" text-anchor="end" fill="#000">40</text>
<line x1="420.10" y1="230.40" x2="424.60" y2="230.40" stroke="#000" stroke-width="1.2" stroke-linecap="butt"/>
<text x="419.10" y="235.00" font-size="10.2" font-weight="bold" text-anchor="end" fill="#000">60</text>
<line x1="420.10" y1="202.50" x2="424.60" y2="202.50" stroke="#000" stroke-width="1.2" stroke-linecap="butt"/>
<text x="419.10" y="207.10" font-size="10.2" font-weight="bold" text-anchor="end" fill="#000">80</text>
<line x1="446.30" y1="314.10" x2="446.30" y2="317.90" stroke="#000" stroke-width="1.2" stroke-linecap="butt"/>
<line x1="489.60" y1="314.10" x2="489.60" y2="317.90" stroke="#000" stroke-width="1.2" stroke-linecap="butt"/>
<text x="446.30" y="326.50" font-size="10.6" font-weight="normal" text-anchor="middle" fill="#000">control</text>
<text x="489.60" y="326.50" font-size="10.6" font-weight="normal" text-anchor="middle" fill="#000">palmitate</text>
<text x="467.60" y="188.60" font-size="10.6" font-weight="bold" text-anchor="middle" fill="#000">AML</text>
<text x="399.3" y="258.6" font-size="10.5" font-weight="bold" text-anchor="middle" transform="rotate(-90 399.3 258.6)">% of CD45<tspan dy="-4.2" font-size="8.3">+</tspan><tspan dy="4.2"> CD33</tspan><tspan dy="-4.2" font-size="8.3">+</tspan><tspan dy="4.2"> CD19</tspan><tspan dy="-4.2" font-size="8.3">-</tspan></text>
<circle cx="446.30" cy="202.70" r="2.15" fill="#000"/>
<circle cx="453.10" cy="212.70" r="2.15" fill="#000"/>
<circle cx="446.30" cy="218.10" r="2.15" fill="#000"/>
<circle cx="439.60" cy="224.20" r="2.15" fill="#000"/>
<circle cx="453.10" cy="224.20" r="2.15" fill="#000"/>
<circle cx="446.30" cy="230.00" r="2.15" fill="#000"/>
<circle cx="446.30" cy="239.20" r="2.15" fill="#000"/>
<circle cx="446.30" cy="249.20" r="2.15" fill="#000"/>
<circle cx="446.30" cy="269.40" r="2.15" fill="#000"/>
<circle cx="489.60" cy="266.70" r="2.15" fill="#000"/>
<circle cx="496.30" cy="275.80" r="2.15" fill="#000"/>
<circle cx="482.90" cy="280.60" r="2.15" fill="#000"/>
<circle cx="489.60" cy="281.20" r="2.15" fill="#000"/>
<circle cx="496.30" cy="285.80" r="2.15" fill="#000"/>
<circle cx="489.60" cy="290.80" r="2.15" fill="#000"/>
<circle cx="482.90" cy="301.70" r="2.15" fill="#000"/>
<circle cx="489.60" cy="300.80" r="2.15" fill="#000"/>
<circle cx="496.30" cy="304.20" r="2.15" fill="#000"/>
<circle cx="489.60" cy="307.90" r="2.15" fill="#000"/>
<line x1="431.20" y1="229.60" x2="461.70" y2="229.60" stroke="#000" stroke-width="1.4" stroke-linecap="butt"/>
<line x1="474.80" y1="289.60" x2="505.20" y2="289.60" stroke="#000" stroke-width="1.4" stroke-linecap="butt"/>
<text x="491.60" y="258.70" font-size="12" font-weight="bold" text-anchor="middle" fill="#000">***</text>
<line x1="424.60" y1="361.70" x2="424.60" y2="474.60" stroke="#000" stroke-width="1.3" stroke-linecap="butt"/>
<line x1="420.10" y1="474.00" x2="512.50" y2="474.00" stroke="#000" stroke-width="1.3" stroke-linecap="butt"/>
<line x1="420.10" y1="474.00" x2="424.60" y2="474.00" stroke="#000" stroke-width="1.2" stroke-linecap="butt"/>
<text x="419.10" y="478.60" font-size="10.2" font-weight="bold" text-anchor="end" fill="#000">0</text>
<line x1="420.10" y1="446.07" x2="424.60" y2="446.07" stroke="#000" stroke-width="1.2" stroke-linecap="butt"/>
<text x="419.10" y="450.68" font-size="10.2" font-weight="bold" text-anchor="end" fill="#000">5</text>
<line x1="420.10" y1="418.15" x2="424.60" y2="418.15" stroke="#000" stroke-width="1.2" stroke-linecap="butt"/>
<text x="419.10" y="422.75" font-size="10.2" font-weight="bold" text-anchor="end" fill="#000">10</text>
<line x1="420.10" y1="390.23" x2="424.60" y2="390.23" stroke="#000" stroke-width="1.2" stroke-linecap="butt"/>
<text x="419.10" y="394.83" font-size="10.2" font-weight="bold" text-anchor="end" fill="#000">15</text>
<line x1="420.10" y1="362.30" x2="424.60" y2="362.30" stroke="#000" stroke-width="1.2" stroke-linecap="butt"/>
<text x="419.10" y="366.90" font-size="10.2" font-weight="bold" text-anchor="end" fill="#000">20</text>
<line x1="446.30" y1="474.00" x2="446.30" y2="477.80" stroke="#000" stroke-width="1.2" stroke-linecap="butt"/>
<line x1="489.60" y1="474.00" x2="489.60" y2="477.80" stroke="#000" stroke-width="1.2" stroke-linecap="butt"/>
<text x="446.30" y="486.20" font-size="10.6" font-weight="normal" text-anchor="middle" fill="#000">control</text>
<text x="489.60" y="486.20" font-size="10.6" font-weight="normal" text-anchor="middle" fill="#000">palmitate</text>
<text x="466.80" y="348.40" font-size="10.6" font-weight="bold" text-anchor="middle" fill="#000">Normal</text>
<text x="399.3" y="418.6" font-size="10.5" font-weight="bold" text-anchor="middle" transform="rotate(-90 399.3 418.6)">% of CD45<tspan dy="-4.2" font-size="8.3">+</tspan><tspan dy="4.2"> CD33</tspan><tspan dy="-4.2" font-size="8.3">+</tspan><tspan dy="4.2"> CD19</tspan><tspan dy="-4.2" font-size="8.3">-</tspan></text>
<circle cx="446.30" cy="378.60" r="2.15" fill="#000"/>
<circle cx="446.30" cy="401.70" r="2.15" fill="#000"/>
<circle cx="446.30" cy="443.00" r="2.15" fill="#000"/>
<circle cx="489.60" cy="389.00" r="2.15" fill="#000"/>
<circle cx="489.60" cy="396.80" r="2.15" fill="#000"/>
<circle cx="489.60" cy="408.50" r="2.15" fill="#000"/>
<line x1="431.20" y1="407.80" x2="461.70" y2="407.80" stroke="#000" stroke-width="1.4" stroke-linecap="butt"/>
<line x1="474.80" y1="398.30" x2="505.20" y2="398.30" stroke="#000" stroke-width="1.4" stroke-linecap="butt"/>
<text x="-0.10" y="493.20" font-size="17.8" font-weight="bold" text-anchor="start" fill="#000">E</text>
<line x1="51.80" y1="497.60" x2="51.80" y2="588.50" stroke="#000" stroke-width="1.5" stroke-linecap="butt"/>
<line x1="48.80" y1="587.90" x2="163.04" y2="587.90" stroke="#000" stroke-width="1.5" stroke-linecap="butt"/>
<line x1="48.80" y1="587.90" x2="51.80" y2="587.90" stroke="#000" stroke-width="1.3" stroke-linecap="butt"/>
<text x="48.40" y="591.10" font-size="9" font-weight="normal" text-anchor="end" stroke="#000" stroke-width="0.15" fill="#000" transform="translate(48.40 591.10) scale(0.88 1) translate(-48.40 -591.10)">0</text>
<line x1="48.80" y1="569.96" x2="51.80" y2="569.96" stroke="#000" stroke-width="1.3" stroke-linecap="butt"/>
<text x="48.40" y="573.16" font-size="9" font-weight="normal" text-anchor="end" stroke="#000" stroke-width="0.15" fill="#000" transform="translate(48.40 573.16) scale(0.88 1) translate(-48.40 -573.16)">300</text>
<line x1="48.80" y1="552.02" x2="51.80" y2="552.02" stroke="#000" stroke-width="1.3" stroke-linecap="butt"/>
<text x="48.40" y="555.22" font-size="9" font-weight="normal" text-anchor="end" stroke="#000" stroke-width="0.15" fill="#000" transform="translate(48.40 555.22) scale(0.88 1) translate(-48.40 -555.22)">600</text>
<line x1="48.80" y1="534.08" x2="51.80" y2="534.08" stroke="#000" stroke-width="1.3" stroke-linecap="butt"/>
<text x="48.40" y="537.28" font-size="9" font-weight="normal" text-anchor="end" stroke="#000" stroke-width="0.15" fill="#000" transform="translate(48.40 537.28) scale(0.88 1) translate(-48.40 -537.28)">900</text>
<line x1="48.80" y1="516.14" x2="51.80" y2="516.14" stroke="#000" stroke-width="1.3" stroke-linecap="butt"/>
<text x="48.40" y="519.34" font-size="9" font-weight="normal" text-anchor="end" stroke="#000" stroke-width="0.15" fill="#000" transform="translate(48.40 519.34) scale(0.88 1) translate(-48.40 -519.34)">1200</text>
<line x1="48.80" y1="498.20" x2="51.80" y2="498.20" stroke="#000" stroke-width="1.3" stroke-linecap="butt"/>
<text x="48.40" y="501.40" font-size="9" font-weight="normal" text-anchor="end" stroke="#000" stroke-width="0.15" fill="#000" transform="translate(48.40 501.40) scale(0.88 1) translate(-48.40 -501.40)">1500</text>
<line x1="52.00" y1="587.90" x2="52.00" y2="590.90" stroke="#000" stroke-width="1.3" stroke-linecap="butt"/>
<text x="52.00" y="599.10" font-size="9" font-weight="normal" text-anchor="middle" stroke="#000" stroke-width="0.15" fill="#000" transform="translate(52.00 599.10) scale(0.88 1) translate(-52.00 -599.10)">0</text>
<line x1="70.39" y1="587.90" x2="70.39" y2="590.90" stroke="#000" stroke-width="1.3" stroke-linecap="butt"/>
<text x="70.39" y="599.10" font-size="9" font-weight="normal" text-anchor="middle" stroke="#000" stroke-width="0.15" fill="#000" transform="translate(70.39 599.10) scale(0.88 1) translate(-70.39 -599.10)">3</text>
<line x1="88.78" y1="587.90" x2="88.78" y2="590.90" stroke="#000" stroke-width="1.3" stroke-linecap="butt"/>
<text x="88.78" y="599.10" font-size="9" font-weight="normal" text-anchor="middle" stroke="#000" stroke-width="0.15" fill="#000" transform="translate(88.78 599.10) scale(0.88 1) translate(-88.78 -599.10)">6</text>
<line x1="107.17" y1="587.90" x2="107.17" y2="590.90" stroke="#000" stroke-width="1.3" stroke-linecap="butt"/>
<text x="107.17" y="599.10" font-size="9" font-weight="normal" text-anchor="middle" stroke="#000" stroke-width="0.15" fill="#000" transform="translate(107.17 599.10) scale(0.88 1) translate(-107.17 -599.10)">9</text>
<line x1="125.56" y1="587.90" x2="125.56" y2="590.90" stroke="#000" stroke-width="1.3" stroke-linecap="butt"/>
<text x="125.56" y="599.10" font-size="9" font-weight="normal" text-anchor="middle" stroke="#000" stroke-width="0.15" fill="#000" transform="translate(125.56 599.10) scale(0.88 1) translate(-125.56 -599.10)">12</text>
<line x1="143.95" y1="587.90" x2="143.95" y2="590.90" stroke="#000" stroke-width="1.3" stroke-linecap="butt"/>
<text x="143.95" y="599.10" font-size="9" font-weight="normal" text-anchor="middle" stroke="#000" stroke-width="0.15" fill="#000" transform="translate(143.95 599.10) scale(0.88 1) translate(-143.95 -599.10)">15</text>
<line x1="162.34" y1="587.90" x2="162.34" y2="590.90" stroke="#000" stroke-width="1.3" stroke-linecap="butt"/>
<text x="162.34" y="599.10" font-size="9" font-weight="normal" text-anchor="middle" stroke="#000" stroke-width="0.15" fill="#000" transform="translate(162.34 599.10) scale(0.88 1) translate(-162.34 -599.10)">18</text>
<text x="27.2" y="544.3" font-size="8.9" font-weight="bold" text-anchor="middle" letter-spacing="0.1" transform="translate(27.2 544.3) rotate(-90) scale(1 0.88) translate(-27.2 -544.3)">Tumour volume (mm<tspan dy="-3.2" font-size="6.5">3</tspan><tspan dy="3.2">)</tspan></text>
<text x="106.50" y="608.80" font-size="8.9" font-weight="bold" text-anchor="middle" fill="#000" transform="translate(106.50 608.80) scale(0.9 1) translate(-106.50 -608.80)">Time (days)</text>
<polyline points="52.00,587.90 94.91,584.61 113.30,579.53 125.56,570.86 137.82,553.51 156.21,511.36" fill="none" stroke="#000" stroke-width="1.45" stroke-linejoin="round"/>
<polyline points="52.00,587.90 94.91,584.91 113.30,581.44 125.56,576.24 137.82,570.50 156.21,548.61" fill="none" stroke="#000" stroke-width="1.45" stroke-linejoin="round"/>
<rect x="50.60" y="586.30" width="2.80" height="3.20" fill="#000" stroke="#000" stroke-width="0"/>
<rect x="93.51" y="583.01" width="2.80" height="3.20" fill="#000" stroke="#000" stroke-width="0"/>
<rect x="111.90" y="577.93" width="2.80" height="3.20" fill="#000" stroke="#000" stroke-width="0"/>
<rect x="124.16" y="569.26" width="2.80" height="3.20" fill="#000" stroke="#000" stroke-width="0"/>
<rect x="136.42" y="551.91" width="2.80" height="3.20" fill="#000" stroke="#000" stroke-width="0"/>
<rect x="154.81" y="509.76" width="2.80" height="3.20" fill="#000" stroke="#000" stroke-width="0"/>
<rect x="50.80" y="586.50" width="2.40" height="2.80" fill="#000" stroke="#000" stroke-width="0"/>
<rect x="93.71" y="583.51" width="2.40" height="2.80" fill="#000" stroke="#000" stroke-width="0"/>
<rect x="112.10" y="580.04" width="2.40" height="2.80" fill="#000" stroke="#000" stroke-width="0"/>
<rect x="124.36" y="574.84" width="2.40" height="2.80" fill="#000" stroke="#000" stroke-width="0"/>
<rect x="136.62" y="569.10" width="2.40" height="2.80" fill="#000" stroke="#000" stroke-width="0"/>
<rect x="155.01" y="547.21" width="2.40" height="2.80" fill="#000" stroke="#000" stroke-width="0"/>
<line x1="156.21" y1="501.49" x2="156.21" y2="521.22" stroke="#000" stroke-width="1.2" stroke-linecap="butt"/>
<line x1="153.91" y1="501.49" x2="158.51" y2="501.49" stroke="#000" stroke-width="1.2" stroke-linecap="butt"/>
<line x1="153.91" y1="521.22" x2="158.51" y2="521.22" stroke="#000" stroke-width="1.2" stroke-linecap="butt"/>
<line x1="137.82" y1="547.83" x2="137.82" y2="559.61" stroke="#000" stroke-width="1.2" stroke-linecap="butt"/>
<line x1="135.52" y1="547.83" x2="140.12" y2="547.83" stroke="#000" stroke-width="1.2" stroke-linecap="butt"/>
<line x1="135.52" y1="559.61" x2="140.12" y2="559.61" stroke="#000" stroke-width="1.2" stroke-linecap="butt"/>
<line x1="125.56" y1="567.87" x2="125.56" y2="575.64" stroke="#000" stroke-width="1.2" stroke-linecap="butt"/>
<line x1="123.26" y1="567.87" x2="127.86" y2="567.87" stroke="#000" stroke-width="1.2" stroke-linecap="butt"/>
<line x1="123.26" y1="575.64" x2="127.86" y2="575.64" stroke="#000" stroke-width="1.2" stroke-linecap="butt"/>
<line x1="113.30" y1="577.43" x2="113.30" y2="582.82" stroke="#000" stroke-width="1.2" stroke-linecap="butt"/>
<line x1="111.00" y1="577.43" x2="115.60" y2="577.43" stroke="#000" stroke-width="1.2" stroke-linecap="butt"/>
<line x1="111.00" y1="582.82" x2="115.60" y2="582.82" stroke="#000" stroke-width="1.2" stroke-linecap="butt"/>
<line x1="156.21" y1="535.10" x2="156.21" y2="560.69" stroke="#000" stroke-width="1.2" stroke-linecap="butt"/>
<line x1="153.91" y1="535.10" x2="158.51" y2="535.10" stroke="#000" stroke-width="1.2" stroke-linecap="butt"/>
<line x1="153.91" y1="560.69" x2="158.51" y2="560.69" stroke="#000" stroke-width="1.2" stroke-linecap="butt"/>
<line x1="137.82" y1="565.48" x2="137.82" y2="575.52" stroke="#000" stroke-width="1.2" stroke-linecap="butt"/>
<line x1="135.52" y1="565.48" x2="140.12" y2="565.48" stroke="#000" stroke-width="1.2" stroke-linecap="butt"/>
<line x1="135.52" y1="575.52" x2="140.12" y2="575.52" stroke="#000" stroke-width="1.2" stroke-linecap="butt"/>
<line x1="125.56" y1="572.95" x2="125.56" y2="579.53" stroke="#000" stroke-width="1.2" stroke-linecap="butt"/>
<line x1="123.26" y1="572.95" x2="127.86" y2="572.95" stroke="#000" stroke-width="1.2" stroke-linecap="butt"/>
<line x1="123.26" y1="579.53" x2="127.86" y2="579.53" stroke="#000" stroke-width="1.2" stroke-linecap="butt"/>
<text x="164.30" y="515.40" font-size="8.7" font-weight="bold" text-anchor="start" fill="#000" transform="translate(164.30 515.40) scale(0.9 1) translate(-164.30 -515.40)">control</text>
<text x="162.70" y="552.20" font-size="8.7" font-weight="bold" text-anchor="start" fill="#000" transform="translate(162.70 552.20) scale(0.9 1) translate(-162.70 -552.20)">palmitate</text>
<line x1="63.00" y1="614.98" x2="63.00" y2="706.20" stroke="#000" stroke-width="1.4" stroke-linecap="butt"/>
<line x1="60.00" y1="705.60" x2="127.00" y2="705.60" stroke="#000" stroke-width="1.4" stroke-linecap="butt"/>
<line x1="60.00" y1="705.60" x2="63.00" y2="705.60" stroke="#000" stroke-width="1.2" stroke-linecap="butt"/>
<text x="59.60" y="708.80" font-size="9" font-weight="normal" text-anchor="end" stroke="#000" stroke-width="0.15" fill="#000" transform="translate(59.60 708.80) scale(0.88 1) translate(-59.60 -708.80)">0</text>
<line x1="60.00" y1="692.74" x2="63.00" y2="692.74" stroke="#000" stroke-width="1.2" stroke-linecap="butt"/>
<text x="59.60" y="695.94" font-size="9" font-weight="normal" text-anchor="end" stroke="#000" stroke-width="0.15" fill="#000" transform="translate(59.60 695.94) scale(0.88 1) translate(-59.60 -695.94)">200</text>
<line x1="60.00" y1="679.88" x2="63.00" y2="679.88" stroke="#000" stroke-width="1.2" stroke-linecap="butt"/>
<text x="59.60" y="683.08" font-size="9" font-weight="normal" text-anchor="end" stroke="#000" stroke-width="0.15" fill="#000" transform="translate(59.60 683.08) scale(0.88 1) translate(-59.60 -683.08)">400</text>
<line x1="60.00" y1="667.02" x2="63.00" y2="667.02" stroke="#000" stroke-width="1.2" stroke-linecap="butt"/>
<text x="59.60" y="670.22" font-size="9" font-weight="normal" text-anchor="end" stroke="#000" stroke-width="0.15" fill="#000" transform="translate(59.60 670.22) scale(0.88 1) translate(-59.60 -670.22)">600</text>
<line x1="60.00" y1="654.16" x2="63.00" y2="654.16" stroke="#000" stroke-width="1.2" stroke-linecap="butt"/>
<text x="59.60" y="657.36" font-size="9" font-weight="normal" text-anchor="end" stroke="#000" stroke-width="0.15" fill="#000" transform="translate(59.60 657.36) scale(0.88 1) translate(-59.60 -657.36)">800</text>
<line x1="60.00" y1="641.30" x2="63.00" y2="641.30" stroke="#000" stroke-width="1.2" stroke-linecap="butt"/>
<text x="59.60" y="644.50" font-size="9" font-weight="normal" text-anchor="end" stroke="#000" stroke-width="0.15" fill="#000" transform="translate(59.60 644.50) scale(0.88 1) translate(-59.60 -644.50)">1000</text>
<line x1="60.00" y1="628.44" x2="63.00" y2="628.44" stroke="#000" stroke-width="1.2" stroke-linecap="butt"/>
<text x="59.60" y="631.64" font-size="9" font-weight="normal" text-anchor="end" stroke="#000" stroke-width="0.15" fill="#000" transform="translate(59.60 631.64) scale(0.88 1) translate(-59.60 -631.64)">1200</text>
<line x1="60.00" y1="615.58" x2="63.00" y2="615.58" stroke="#000" stroke-width="1.2" stroke-linecap="butt"/>
<text x="59.60" y="618.78" font-size="9" font-weight="normal" text-anchor="end" stroke="#000" stroke-width="0.15" fill="#000" transform="translate(59.60 618.78) scale(0.88 1) translate(-59.60 -618.78)">1400</text>
<text x="39.40" y="658.80" font-size="8.9" font-weight="bold" text-anchor="middle" letter-spacing="0.15" fill="#000" transform="translate(39.40 658.80) rotate(-90) scale(1 0.88) translate(-39.40 -658.80)">Tumour mass (mg)</text>
<line x1="78.40" y1="616.54" x2="78.40" y2="627.80" stroke="#000" stroke-width="1.2" stroke-linecap="butt"/>
<line x1="73.00" y1="616.54" x2="83.80" y2="616.54" stroke="#000" stroke-width="1.2" stroke-linecap="butt"/>
<rect x="67.80" y="628.12" width="21.50" height="77.48" fill="#fff" stroke="#000" stroke-width="1.2"/>
<line x1="111.50" y1="649.02" x2="111.50" y2="662.52" stroke="#000" stroke-width="1.2" stroke-linecap="butt"/>
<line x1="105.80" y1="649.02" x2="117.30" y2="649.02" stroke="#000" stroke-width="1.2" stroke-linecap="butt"/>
<rect x="99.30" y="662.52" width="21.50" height="43.08" fill="#000" stroke="#000" stroke-width="0"/>
<line x1="78.20" y1="705.60" x2="78.20" y2="708.20" stroke="#000" stroke-width="1.1" stroke-linecap="butt"/>
<line x1="110.10" y1="705.60" x2="110.10" y2="708.20" stroke="#000" stroke-width="1.1" stroke-linecap="butt"/>
<text x="111.10" y="646.20" font-size="9.5" font-weight="bold" text-anchor="middle" fill="#000" transform="translate(111.10 646.20) scale(0.95 1) translate(-111.10 -646.20)">***</text>
<text x="78.60" y="716.00" font-size="7.8" font-weight="normal" text-anchor="middle" stroke="#000" stroke-width="0.12" fill="#000">control</text>
<text x="110.30" y="716.00" font-size="7.8" font-weight="normal" text-anchor="middle" stroke="#000" stroke-width="0.12" fill="#000">palmitate</text>
<text x="226.60" y="500.40" font-size="17.8" font-weight="bold" text-anchor="start" fill="#000">F</text>
<line x1="263.00" y1="549.80" x2="263.00" y2="683.00" stroke="#000" stroke-width="1.4" stroke-linecap="butt"/>
<line x1="258.50" y1="682.40" x2="367.40" y2="682.40" stroke="#000" stroke-width="1.4" stroke-linecap="butt"/>
<line x1="258.50" y1="682.40" x2="263.00" y2="682.40" stroke="#000" stroke-width="1.2" stroke-linecap="butt"/>
<text x="257.70" y="686.10" font-size="10.4" font-weight="normal" text-anchor="end" stroke="#000" stroke-width="0.1" fill="#000">0</text>
<line x1="258.50" y1="649.40" x2="263.00" y2="649.40" stroke="#000" stroke-width="1.2" stroke-linecap="butt"/>
<text x="257.70" y="653.10" font-size="10.4" font-weight="normal" text-anchor="end" stroke="#000" stroke-width="0.1" fill="#000">25</text>
<line x1="258.50" y1="616.40" x2="263.00" y2="616.40" stroke="#000" stroke-width="1.2" stroke-linecap="butt"/>
<text x="257.70" y="620.10" font-size="10.4" font-weight="normal" text-anchor="end" stroke="#000" stroke-width="0.1" fill="#000">50</text>
<line x1="258.50" y1="583.40" x2="263.00" y2="583.40" stroke="#000" stroke-width="1.2" stroke-linecap="butt"/>
<text x="257.70" y="587.10" font-size="10.4" font-weight="normal" text-anchor="end" stroke="#000" stroke-width="0.1" fill="#000">75</text>
<line x1="258.50" y1="550.40" x2="263.00" y2="550.40" stroke="#000" stroke-width="1.2" stroke-linecap="butt"/>
<text x="257.70" y="554.10" font-size="10.4" font-weight="normal" text-anchor="end" stroke="#000" stroke-width="0.1" fill="#000">100</text>
<line x1="288.50" y1="682.40" x2="288.50" y2="686.20" stroke="#000" stroke-width="1.2" stroke-linecap="butt"/>
<line x1="340.40" y1="682.40" x2="340.40" y2="686.20" stroke="#000" stroke-width="1.2" stroke-linecap="butt"/>
<text x="288.50" y="696.20" font-size="10.9" font-weight="normal" text-anchor="middle" stroke="#000" stroke-width="0.1" fill="#000">Control</text>
<text x="340.40" y="696.20" font-size="10.9" font-weight="normal" text-anchor="middle" stroke="#000" stroke-width="0.1" fill="#000">Palmitate</text>
<text x="314.30" y="535.00" font-size="11.1" font-weight="normal" text-anchor="middle" stroke="#000" stroke-width="0.1" fill="#000">AML (primary)</text>
<text x="230.5" y="615.1" font-size="11" text-anchor="middle" stroke="#000" stroke-width="0.1" transform="rotate(-90 230.5 615.1)">% CD45<tspan dy="-4.4" font-size="7.8">+</tspan><tspan dy="4.4">CD33</tspan><tspan dy="-4.4" font-size="7.8">+</tspan><tspan dy="4.4">CD19</tspan><tspan dy="-4.4" font-size="7.8">-</tspan></text>
<circle cx="296.60" cy="587.30" r="2.5" fill="#000"/>
<circle cx="288.50" cy="594.20" r="2.5" fill="#000"/>
<circle cx="280.50" cy="606.00" r="2.5" fill="#000"/>
<circle cx="288.50" cy="602.20" r="2.5" fill="#000"/>
<circle cx="296.60" cy="608.60" r="2.5" fill="#000"/>
<circle cx="288.50" cy="612.50" r="2.5" fill="#000"/>
<circle cx="280.50" cy="629.70" r="2.5" fill="#000"/>
<circle cx="288.50" cy="631.20" r="2.5" fill="#000"/>
<circle cx="296.60" cy="639.00" r="2.5" fill="#000"/>
<circle cx="288.50" cy="643.40" r="2.5" fill="#000"/>
<circle cx="332.40" cy="611.90" r="2.5" fill="#000"/>
<circle cx="340.40" cy="617.00" r="2.5" fill="#000"/>
<circle cx="348.50" cy="616.50" r="2.5" fill="#000"/>
<circle cx="332.40" cy="640.70" r="2.5" fill="#000"/>
<circle cx="340.40" cy="642.50" r="2.5" fill="#000"/>
<circle cx="348.50" cy="647.20" r="2.5" fill="#000"/>
<circle cx="340.40" cy="652.70" r="2.5" fill="#000"/>
<circle cx="332.40" cy="666.70" r="2.5" fill="#000"/>
<circle cx="340.40" cy="669.70" r="2.5" fill="#000"/>
<circle cx="340.40" cy="682.20" r="2.5" fill="#000"/>
<line x1="270.70" y1="615.50" x2="307.00" y2="615.50" stroke="#000" stroke-width="1.4" stroke-linecap="butt"/>
<line x1="322.60" y1="645.00" x2="358.80" y2="645.00" stroke="#000" stroke-width="1.4" stroke-linecap="butt"/>
<line x1="287.10" y1="576.30" x2="350.80" y2="576.30" stroke="#000" stroke-width="1.2" stroke-linecap="butt"/>
<text x="319.30" y="576.10" font-size="19" font-weight="bold" text-anchor="middle" fill="#000">**</text>
<line x1="415.50" y1="549.60" x2="415.50" y2="682.60" stroke="#000" stroke-width="1.4" stroke-linecap="butt"/>
<line x1="411.00" y1="682.00" x2="520.00" y2="682.00" stroke="#000" stroke-width="1.4" stroke-linecap="butt"/>
<line x1="411.00" y1="682.00" x2="415.50" y2="682.00" stroke="#000" stroke-width="1.2" stroke-linecap="butt"/>
<text x="410.20" y="685.70" font-size="10.4" font-weight="normal" text-anchor="end" stroke="#000" stroke-width="0.1" fill="#000">0</text>
<line x1="411.00" y1="649.05" x2="415.50" y2="649.05" stroke="#000" stroke-width="1.2" stroke-linecap="butt"/>
<text x="410.20" y="652.75" font-size="10.4" font-weight="normal" text-anchor="end" stroke="#000" stroke-width="0.1" fill="#000">25</text>
<line x1="411.00" y1="616.10" x2="415.50" y2="616.10" stroke="#000" stroke-width="1.2" stroke-linecap="butt"/>
<text x="410.20" y="619.80" font-size="10.4" font-weight="normal" text-anchor="end" stroke="#000" stroke-width="0.1" fill="#000">50</text>
<line x1="411.00" y1="583.15" x2="415.50" y2="583.15" stroke="#000" stroke-width="1.2" stroke-linecap="butt"/>
<text x="410.20" y="586.85" font-size="10.4" font-weight="normal" text-anchor="end" stroke="#000" stroke-width="0.1" fill="#000">75</text>
<line x1="411.00" y1="550.20" x2="415.50" y2="550.20" stroke="#000" stroke-width="1.2" stroke-linecap="butt"/>
<text x="410.20" y="553.90" font-size="10.4" font-weight="normal" text-anchor="end" stroke="#000" stroke-width="0.1" fill="#000">100</text>
<line x1="441.10" y1="682.00" x2="441.10" y2="685.80" stroke="#000" stroke-width="1.2" stroke-linecap="butt"/>
<line x1="493.20" y1="682.00" x2="493.20" y2="685.80" stroke="#000" stroke-width="1.2" stroke-linecap="butt"/>
<text x="441.10" y="696.20" font-size="10.9" font-weight="normal" text-anchor="middle" stroke="#000" stroke-width="0.1" fill="#000">Control</text>
<text x="493.20" y="696.20" font-size="10.9" font-weight="normal" text-anchor="middle" stroke="#000" stroke-width="0.1" fill="#000">Palmitate</text>
<text x="466.30" y="533.60" font-size="11.1" font-weight="normal" text-anchor="middle" stroke="#000" stroke-width="0.1" fill="#000">AML (secondary)</text>
<text x="383.2" y="615.1" font-size="11" text-anchor="middle" stroke="#000" stroke-width="0.1" transform="rotate(-90 383.2 615.1)">% CD45<tspan dy="-4.4" font-size="7.8">+</tspan><tspan dy="4.4">CD33</tspan><tspan dy="-4.4" font-size="7.8">+</tspan><tspan dy="4.4">CD19</tspan><tspan dy="-4.4" font-size="7.8">-</tspan></text>
<circle cx="432.90" cy="584.40" r="2.5" fill="#000"/>
<circle cx="441.10" cy="591.70" r="2.5" fill="#000"/>
<circle cx="441.10" cy="610.30" r="2.5" fill="#000"/>
<circle cx="448.80" cy="608.50" r="2.5" fill="#000"/>
<circle cx="441.10" cy="622.50" r="2.5" fill="#000"/>
<circle cx="448.80" cy="637.60" r="2.5" fill="#000"/>
<circle cx="441.10" cy="644.20" r="2.5" fill="#000"/>
<circle cx="432.90" cy="652.60" r="2.5" fill="#000"/>
<circle cx="441.10" cy="655.30" r="2.5" fill="#000"/>
<circle cx="441.10" cy="675.80" r="2.5" fill="#000"/>
<circle cx="481.50" cy="678.80" r="2.5" fill="#000"/>
<circle cx="485.50" cy="680.00" r="2.5" fill="#000"/>
<circle cx="491.30" cy="675.30" r="2.5" fill="#000"/>
<circle cx="489.00" cy="680.00" r="2.5" fill="#000"/>
<circle cx="495.30" cy="678.60" r="2.5" fill="#000"/>
<circle cx="498.00" cy="680.20" r="2.5" fill="#000"/>
<circle cx="503.00" cy="674.70" r="2.5" fill="#000"/>
<circle cx="505.00" cy="679.30" r="2.5" fill="#000"/>
<circle cx="501.00" cy="680.20" r="2.5" fill="#000"/>
<circle cx="493.50" cy="680.60" r="2.5" fill="#000"/>
<line x1="423.60" y1="628.50" x2="459.40" y2="628.50" stroke="#000" stroke-width="1.4" stroke-linecap="butt"/>
<line x1="475.30" y1="679.20" x2="511.40" y2="679.20" stroke="#000" stroke-width="1.4" stroke-linecap="butt"/>
<line x1="439.50" y1="576.20" x2="503.00" y2="576.20" stroke="#000" stroke-width="1.2" stroke-linecap="butt"/>
<text x="469.30" y="576.60" font-size="19" font-weight="bold" text-anchor="middle" fill="#000">***</text>
</g>
</svg>
</body></html>
